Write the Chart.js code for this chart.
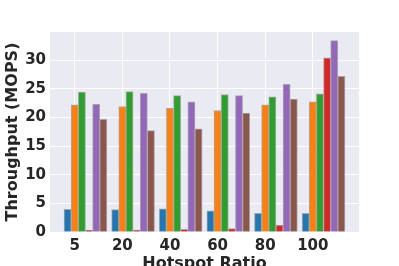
<!DOCTYPE html>
<html>
<head>
<meta charset="utf-8">
<script src="https://cdn.jsdelivr.net/npm/chart.js@4"></script>
<style>
  html, body { margin: 0; padding: 0; background: #fff; }
  #wrap { width: 399px; height: 266px; }
</style>
</head>
<body>
<div id="wrap"><canvas id="myChart" width="399" height="266"></canvas></div>
<script>
"use strict";

// DATA
const hotspotRatios = ["5", "20", "40", "60", "80", "100"];
const blueValues = [3.95, 3.9, 4.05, 3.7, 3.25, 3.25];
const orangeValues = [22.2, 21.9, 21.6, 21.2, 22.2, 22.7];
const greenValues = [24.4, 24.5, 23.8, 24.0, 23.6, 24.1];
const redValues = [0.3, 0.35, 0.45, 0.6, 1.2, 30.4];
const purpleValues = [22.3, 24.2, 22.7, 23.8, 25.75, 33.4];
const brownValues = [19.65, 17.7, 18.0, 20.75, 23.2, 27.15];
const yTicks = [0, 5, 10, 15, 20, 25, 30];

const seriesList = [blueValues, orangeValues, greenValues, redValues, purpleValues, brownValues];
const colors = ["#1f77b4", "#ff7f0e", "#2ca02c", "#d62728", "#9467bd", "#8c564b"];

// bar width in category units, tick sits on the 2nd bar (like x + i*w in matplotlib)
const barWidth = 0.15;

const fontMain = { family: "DejaVu Sans", weight: "bold", size: 15 };
const textColor = "#262626";

// grey plot background
const bgPlugin = {
  id: "bgPlugin",
  beforeDraw(chart) {
    const { ctx, chartArea } = chart;
    ctx.save();
    ctx.fillStyle = "#eaeaf2";
    ctx.fillRect(chartArea.left, chartArea.top, chartArea.right - chartArea.left, chartArea.bottom - chartArea.top);
    ctx.restore();
  },
};

const datasets = seriesList.map((vals, k) => ({
  data: vals.map((v, i) => ({ x: i + (k - 1) * barWidth, y: v })),
  backgroundColor: colors[k],
  borderColor: "#a6a6a6",
  borderWidth: 1,
  borderSkipped: "bottom",
}));

const ctx = document.getElementById("myChart").getContext("2d");
const myChart = new Chart(ctx, {
  type: "bar",
  data: { datasets: datasets },
  options: {
    responsive: false,
    animation: false,
    grouped: false,
    categoryPercentage: 1,
    barPercentage: 1,
    layout: { padding: { top: 32, right: 40, bottom: 0, left: 0 } },
    plugins: { legend: { display: false }, tooltip: { enabled: false } },
    scales: {
      x: {
        type: "linear",
        offset: false,
        min: -0.52,
        max: 5.97,
        afterBuildTicks: (scale) => {
          scale.ticks = hotspotRatios.map((c, i) => ({ value: i }));
        },
        afterFit: (scale) => {
          scale.height = 34;
        },
        grid: { color: "#ffffff", lineWidth: 1, drawTicks: false, offset: false },
        border: { display: false },
        ticks: {
          padding: 5,
          color: textColor,
          font: fontMain,
          maxRotation: 0,
          callback: (v) => hotspotRatios[v],
        },
        title: {
          display: true,
          text: "Hotspot Ratio",
          color: textColor,
          font: { family: "DejaVu Sans", weight: "bold", size: 16 },
          padding: { top: 0, bottom: -7 },
        },
      },
      y: {
        min: 0,
        max: 34.9,
        afterBuildTicks: (scale) => {
          scale.ticks = yTicks.map((v) => ({ value: v }));
        },
        afterFit: (scale) => {
          scale.width = 50;
        },
        grid: { color: "#ffffff", lineWidth: 1, drawTicks: false },
        border: { display: false },
        ticks: { padding: 4, color: textColor, font: fontMain },
        title: {
          display: true,
          text: "Throughput (MOPS)",
          color: textColor,
          font: { family: "DejaVu Sans", weight: "bold", size: 16 },
          padding: { top: 3, bottom: 0 },
        },
      },
    },
  },
  plugins: [bgPlugin],
});
</script>
</body>
</html>
